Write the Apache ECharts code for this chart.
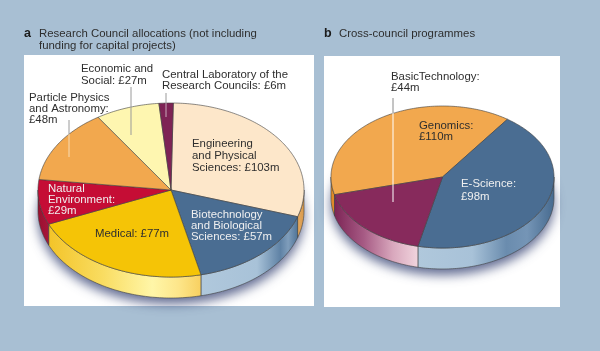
<!DOCTYPE html>
<html><head><meta charset="utf-8">
<style>html,body{margin:0;padding:0;background:#a8bfd3}#c{width:600px;height:351px}</style>
<script src="https://cdn.jsdelivr.net/npm/echarts@6/dist/echarts.min.js"></script>
</head><body><div id="c"></div>
<script>
// Panel a: values as printed, clockwise from the top
const categoriesA = ['Engineering and Physical Sciences','Biotechnology and Biological Sciences','Medical','Natural Environment','Particle Physics and Astronomy','Economic and Social','Central Laboratory of the Research Councils'];
const valuesA = [103,57,77,29,48,27,6];
// Panel b: the printed labels say Genomics 110 and E-Science 98...
const categoriesB = ['Genomics','E-Science','BasicTechnology'];
const printedB = [110,98,44];
// ...but the slices as drawn in the picture measure about 98 (orange) and 110 (blue).
const drawnB = [98,110,44];

const topA = ['#fde7ca','#4a6d92','#f5c406','#c50d35','#f2a84e','#fef6b0','#7e2355'];
const topB = ['#f2a84e','#4a6d92','#872a5c'];
const wallA = [
  [[0,'#e3a860'],[1,'#d99a4c']],
  [[0,'#b0c8dc'],[0.58,'#a8c2d8'],[0.82,'#5f82a5'],[0.9,'#7f9dbb'],[1,'#4f7396']],
  [[0,'#f3c428'],[0.35,'#f9dc60'],[0.68,'#fff6a8'],[0.85,'#fde68a'],[1,'#f8d060']],
  [[0,'#98112f'],[1,'#a8153a']],[[0,'#999'],[1,'#999']],[[0,'#999'],[1,'#999']],[[0,'#999'],[1,'#999']]
];
const wallB = [
  [[0,'#e08a28'],[1,'#e08a28']],
  [[0,'#b0c8dc'],[0.4,'#a8c2d8'],[0.65,'#6a8cae'],[0.8,'#7595b6'],[1,'#466a8f']],
  [[0,'#7c2455'],[0.35,'#a65a84'],[0.7,'#d9a8bd'],[1,'#f1d5de']]
];
const edge = '#3f3f3f';
const pieA = {cx:171,cy:190,rx:133,ry:87,depth:21,start:1};
const pieB = {cx:442.5,cy:177,rx:111.5,ry:71,depth:21,start:255.6};

function pt(p,deg,dy){const t=deg*Math.PI/180;return [p.cx+p.rx*Math.sin(t),p.cy-p.ry*Math.cos(t)+(dy||0)];}
function arc(p,a,b,dy){const out=[];const n=Math.max(2,Math.ceil(Math.abs(b-a)));for(let i=0;i<=n;i++)out.push(pt(p,a+(b-a)*i/n,dy));return out;}
function spans(values,start){const sum=values.reduce((s,v)=>s+v,0);let a=start;return values.map(v=>{const b=a+v/sum*360;const r=[a,b];a=b;return r;});}
function wallRange(a,b){ // the part of a slice facing the viewer (90..270 deg, modulo 360)
  const k=Math.floor(a/360)*360;const lo=Math.max(a-k,90),hi=Math.min(b-k,270);
  return hi>lo?[lo,hi]:null;
}
function seriesFor(p,names,values,tops,walls){
  const s=spans(values,p.start);
  const data=values.map((v,i)=>({name:names[i],value:v}));
  return [
    {type:'custom',coordinateSystem:'none',z:3,silent:true,data:[0],renderItem(){
      return {type:'polygon',shape:{points:arc(p,0,360,p.depth-3)},
        style:{fill:'#fff',shadowBlur:11,shadowOffsetY:9,shadowColor:'rgba(60,72,120,0.8)'}};
    }},
    {type:'custom',coordinateSystem:'none',z:4,silent:true,data,renderItem(ctx){
      const i=ctx.dataIndex;const r=wallRange(s[i][0],s[i][1]);
      if(!r)return null;
      const pts=arc(p,r[0],r[1],0).concat(arc(p,r[1],r[0],p.depth));
      return {type:'polygon',shape:{points:pts},style:{
        fill:{type:'linear',x:0,y:0,x2:1,y2:0,colorStops:walls[i].map(c=>({offset:c[0],color:c[1]}))},
        stroke:edge,lineWidth:0.6}};
    }},
    {type:'custom',coordinateSystem:'none',z:5,silent:true,data,renderItem(ctx){
      const i=ctx.dataIndex;
      const pts=[[p.cx,p.cy]].concat(arc(p,s[i][0],s[i][1],0));
      return {type:'polygon',shape:{points:pts},style:{fill:tops[i],stroke:edge,lineWidth:0.6}};
    }}
  ];
}

const FONT='"Liberation Sans",Arial,sans-serif';
const dark='#2e2e2e', pale='#f0f0f0';
const texts=[
  ['a',24,33.5,'#1c1c1c','bold'],
  ['Research Council allocations (not including\nfunding for capital projects)',39,39.5,dark],
  ['Economic and\nSocial: £27m',81,75,dark],
  ['Central Laboratory of the\nResearch Councils: £6m',162,80,dark],
  ['Particle Physics\nand Astronomy:\n£48m',29,108.5,dark],
  ['Engineering\nand Physical\nSciences: £103m',192,156,dark],
  ['Natural\nEnvironment:\n£29m',48,200,pale],
  ['Medical: £77m',95,233.5,dark],
  ['Biotechnology\nand Biological\nSciences: £57m',191,225.5,pale],
  ['b',324,33.5,'#1c1c1c','bold'],
  ['Cross-council programmes',339,33.5,dark],
  ['BasicTechnology:\n£44m',391,82,dark],
  ['Genomics:\n£110m',419,131,dark],
  ['E-Science:\n£98m',461,190.5,pale]
];
const lineHeights={'Research Council allocations (not including\nfunding for capital projects)':12,'Economic and\nSocial: £27m':12,'Engineering\nand Physical\nSciences: £103m':12,'E-Science:\n£98m':13};
const leaders=[
  [131,87,135,'#9a9a9a'],[166,93,103,'#9a9a9a'],[166,103,117,'#c9a9bb'],
  [69,120,134,'#9a9a9a'],[69,134,157,'#f7dcb5'],
  [393,98,113,'#8a8a8a'],[393,113,202,'#ffffff']
];
const graphic=[
  {type:'rect',z:1,shape:{x:24,y:55,width:290,height:251},style:{fill:'#fff'}},
  {type:'rect',z:1,shape:{x:324,y:56,width:236,height:251},style:{fill:'#fff'}}
].concat(leaders.map(l=>({type:'line',z:50,shape:{x1:l[0],y1:l[1],x2:l[0],y2:l[2]},style:{stroke:l[3],lineWidth:1}})))
 .concat(texts.map(t=>({type:'text',z:60,x:t[1],y:t[2],style:{text:t[0],fill:t[3],
   font:(t[4]?'bold 12.5px ':'normal 11.4px ')+FONT,lineHeight:lineHeights[t[0]]||11,textVerticalAlign:'middle',verticalAlign:'middle'}})));

const chart=echarts.init(document.getElementById('c'),null,{renderer:'canvas'});
chart.setOption({
  animation:false,backgroundColor:'#a8bfd3',graphic,
  series:[...seriesFor(pieA,categoriesA,valuesA,topA,wallA),...seriesFor(pieB,categoriesB,drawnB,topB,wallB)]
});
</script></body></html>
